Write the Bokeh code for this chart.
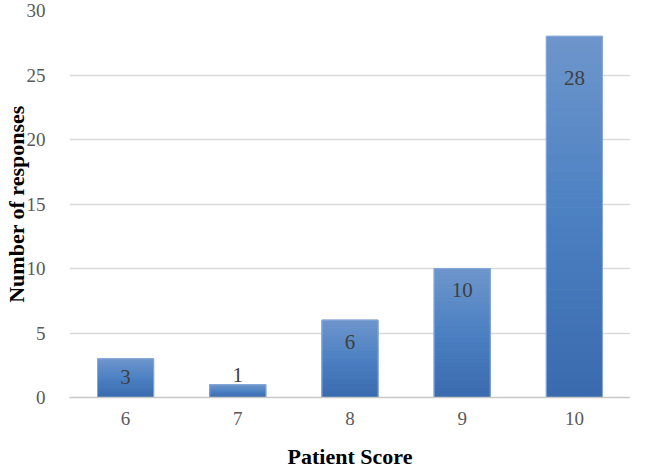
from bokeh.plotting import figure
from bokeh.models import ColumnDataSource, FactorRange, Range1d, FixedTicker
from bokeh.embed import file_html
from bokeh.resources import INLINE
from bokeh.core.properties import value

# ---- data ----
scores = ["6", "7", "8", "9", "10"]
responses = [3, 1, 6, 10, 28]
y_ticks = [0, 5, 10, 15, 20, 25, 30]

# ---- style ----
label_offsets = [18, -10, 22, 21, 42]  # px below bar top
FONT = "Liberation Serif"
top_col = (0x6E, 0x96, 0xCC)
mid_col = (0x4B, 0x80, 0xC2)
bot_col = (0x3A, 0x6A, 0xAE)
N = 40

def lerp(a, b, t):
    return tuple(int(round(a[k] + (b[k] - a[k]) * t)) for k in range(3))

def grad(t):  # t: 0 bottom -> 1 top
    if t < 0.5:
        c = lerp(bot_col, mid_col, t / 0.5)
    else:
        c = lerp(mid_col, top_col, (t - 0.5) / 0.5)
    return "#%02x%02x%02x" % c

p = figure(x_range=FactorRange(factors=scores), y_range=Range1d(0, 30),
           width=630, height=471, output_backend="svg", toolbar_location=None,
           min_border_left=61, min_border_right=0, min_border_top=10, min_border_bottom=74)
p.outline_line_color = None
p.background_fill_color = "white"

# gradient slices
xs, bots, tops, cols = [], [], [], []
for s, v in zip(scores, responses):
    for i in range(N):
        xs.append(s)
        bots.append(v * i / N)
        tops.append(v * (i + 1) / N)
        cols.append(grad((i + 0.5) / N))
p.vbar(x=xs, bottom=bots, top=tops, width=0.5, fill_color=cols, line_color=cols, line_width=1)
p.vbar(x=scores, top=responses, width=0.5, fill_alpha=0, line_color="#86a9d8", line_width=1)

src = ColumnDataSource(dict(x=scores, y=responses, t=[str(v) for v in responses], off=label_offsets))
p.text(x="x", y="y", text="t", y_offset="off", source=src, text_align="center",
       text_baseline="middle", text_font=value(FONT), text_font_size="21px", text_color="#404040")

# axes
p.yaxis.ticker = FixedTicker(ticks=y_ticks)
for ax in (p.xaxis[0], p.yaxis[0]):
    ax.major_tick_line_color = None
    ax.minor_tick_line_color = None
    ax.major_label_text_font = FONT
    ax.major_label_text_font_size = "19px"
    ax.major_label_text_color = "#595959"
    ax.axis_label_text_font = FONT
    ax.axis_label_text_font_style = "bold"
    ax.axis_label_text_font_size = "22px"
    ax.axis_label_text_color = "#000000"
p.yaxis.axis_line_color = None
p.xaxis.axis_line_color = "#c8c8c8"
p.xaxis.axis_line_width = 1.5
p.yaxis.major_label_standoff = 18
p.xaxis.major_label_standoff = 8
p.xaxis.axis_label_standoff = 16
p.yaxis.axis_label_standoff = -5
p.xaxis.axis_label = "Patient Score"
p.yaxis.axis_label = "Number of responses"

p.xgrid.grid_line_color = None
p.ygrid.grid_line_color = "#d9d9d9"
p.ygrid.grid_line_width = 1.5
p.ygrid.level = "underlay"

open("out.html", "w").write(file_html(p, INLINE))
